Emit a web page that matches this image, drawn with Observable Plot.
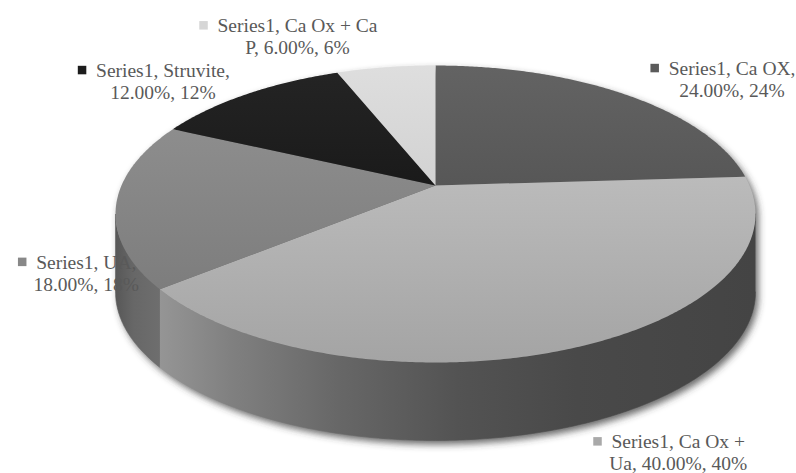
<!DOCTYPE html>
<html>
<head>
<meta charset="utf-8">
<script src="https://cdn.jsdelivr.net/npm/d3@7"></script>
<script src="https://cdn.jsdelivr.net/npm/@observablehq/plot@0.6"></script>
<style>
  html, body { margin: 0; padding: 0; background: #fff; }
</style>
</head>
<body>
<div id="chart"></div>
<script>
// ---- data ----
const seriesName = "Series1";
const categories = ["Ca OX", "Ca Ox + Ua", "UA", "Struvite", "Ca Ox + Ca P"];
const percents = [24, 40, 18, 12, 6];

// ---- styling ----
const keyColors = ["#5b5b5b", "#a9a9a9", "#888888", "#1c1c1c", "#d6d6d6"];
const topStops = [
  ["#636363", "#575757"],
  ["#bbbbbb", "#a4a4a4"],
  ["#8d8d8d", "#7d7d7d"],
  ["#242424", "#1a1a1a"],
  ["#dedede", "#d2d2d2"]
];
const wallStops = [
  [[0, "#4a4a4a"], [1, "#444444"]],
  [[0, "#959595"], [0.12, "#808080"], [0.3, "#676767"], [0.5, "#535353"], [0.7, "#494949"], [1, "#444444"]],
  [[0, "#575757"], [0.4, "#676767"], [1, "#6e6e6e"]],
  [[0, "#1a1a1a"], [1, "#1a1a1a"]],
  [[0, "#cfcfcf"], [1, "#cfcfcf"]]
];
// label offsets (px) from the slice's outer edge at its mid angle to the first text line
const labelOffsets = [[108, -19], [102, 101], [-30, 65], [-84, -17], [-88.5, -35]];

// ---- layout ----
const W = 796, H = 473;
const cx = 435, cy = 185;      // pie centre on screen
const rx = 314, ry = 143;      // disc radii before perspective
const k = 0.192;               // perspective: far edge shrinks, near edge grows
const depth = 78 / ry;         // thickness of the pie
const fontSize = 19.5, lineGap = 21.7, wrapEm = 8.35;
const textColor = "#595959";

const xDomain = [-cx / rx, (W - cx) / rx];
const yDomain = [(cy - H) / ry, cy / ry];
const toX = (px) => (px - cx) / rx;
const toY = (py) => (cy - py) / ry;
const fromX = (x) => cx + x * rx;
const fromY = (y) => cy - y * ry;

// angle in degrees, clockwise from 12 o'clock
function project(deg, drop = 0, r = 1) {
  const t = deg * Math.PI / 180;
  const u = r * Math.sin(t), v = r * Math.cos(t), d = 1 + k * v;
  return {x: u / d, y: v / d - drop};
}
function ring(a0, a1, drop = 0) {
  const n = Math.max(2, Math.ceil(Math.abs(a1 - a0) / 0.5));
  return d3.range(n + 1).map(j => project(a0 + (a1 - a0) * j / n, drop));
}

const total = d3.sum(percents);
let acc = 0;
const slices = categories.map((c, i) => {
  const a0 = acc / total * 360;
  acc += percents[i];
  return {i, c, p: percents[i], a0, a1: acc / total * 360};
});

// silhouette angles where the rim turns from top face to side wall
const aRight = Math.acos(-k) * 180 / Math.PI;
const aLeft = 360 - aRight;

// ---- geometry ----
const tops = slices.map(s => [{x: 0, y: 0}, ...ring(s.a0, s.a1, 0)]);
const walls = slices.map(s => {
  const a0 = Math.max(s.a0, aRight), a1 = Math.min(s.a1, aLeft);
  if (a1 <= a0) return null;
  return [...ring(a0, a1, 0), ...ring(a1, a0, depth)];
});
const shadowOffset = [3 / rx, -4 / ry];
const shadow = [...ring(aLeft, 360 + aRight, 0), ...ring(aRight, aLeft, depth)]
  .map(p => ({x: p.x + shadowOffset[0], y: p.y + shadowOffset[1]}));

// ---- labels ----
const ctx = document.createElement("canvas").getContext("2d");
ctx.font = `${fontSize}px "Liberation Serif"`;
function wrap(str, maxW) {
  const words = str.split(" ");
  const lines = [];
  let cur = "";
  for (const w of words) {
    const t = cur ? cur + " " + w : w;
    if (cur && ctx.measureText(t).width > maxW) { lines.push(cur); cur = w; }
    else cur = t;
  }
  lines.push(cur);
  return lines;
}
const textRows = [], keyRows = [];
slices.forEach(s => {
  const mid = project((s.a0 + s.a1) / 2);
  const [dx, dy] = labelOffsets[s.i];
  const X = fromX(mid.x) + dx, B = fromY(mid.y) + dy;
  const label = `${seriesName}, ${s.c}, ${s.p.toFixed(2)}%, ${s.p}%`;
  const lines = wrap(label, wrapEm * fontSize);
  lines.forEach((t, j) => textRows.push({x: toX(X), y: toY(B + j * lineGap), text: t}));
  const w0 = ctx.measureText(lines[0]).width;
  keyRows.push({x: toX(X - w0 / 2 - 14), y: toY(B - 7), fill: keyColors[s.i]});
});

// ---- chart ----
const marks = [
  Plot.line(shadow, {x: "x", y: "y", fill: "#3a3a3a", fillOpacity: 0.75, stroke: "none"})
];
walls.forEach((w, i) => {
  if (w) marks.push(Plot.line(w, {x: "x", y: "y", fill: `url(#wall${i})`, stroke: `url(#wall${i})`, strokeWidth: 0.6}));
});
tops.forEach((t, i) => {
  marks.push(Plot.line(t, {x: "x", y: "y", fill: `url(#top${i})`, stroke: "none"}));
});
marks.push(Plot.dot(keyRows, {x: "x", y: "y", fill: "fill", symbol: "square", r: 4.8}));
marks.push(Plot.text(textRows, {
  x: "x", y: "y", text: "text", textAnchor: "middle", lineAnchor: "bottom",
  fontSize, fontFamily: "'Liberation Serif', 'Times New Roman', serif", fill: textColor
}));

const chart = Plot.plot({
  width: W, height: H, margin: 0,
  x: {domain: xDomain, axis: null},
  y: {domain: yDomain, axis: null},
  color: {type: "identity"},
  style: {background: "#fff", overflow: "visible"},
  marks
});

// gradients and the soft shadow
const svg = d3.select(chart);
const defs = svg.insert("defs", ":first-child");
topStops.forEach((st, i) => {
  const g = defs.append("linearGradient").attr("id", `top${i}`)
    .attr("x1", 0).attr("y1", 0).attr("x2", 0).attr("y2", 1);
  g.append("stop").attr("offset", 0).attr("stop-color", st[0]);
  g.append("stop").attr("offset", 1).attr("stop-color", st[1]);
});
wallStops.forEach((st, i) => {
  const g = defs.append("linearGradient").attr("id", `wall${i}`)
    .attr("x1", 0).attr("y1", 0).attr("x2", 1).attr("y2", 0);
  st.forEach(([o, c]) => g.append("stop").attr("offset", o).attr("stop-color", c));
});
defs.append("filter").attr("id", "soft")
  .attr("x", "-10%").attr("y", "-10%").attr("width", "120%").attr("height", "120%")
  .append("feGaussianBlur").attr("stdDeviation", 3.5);
svg.select('g[aria-label="line"]').attr("filter", "url(#soft)");

document.getElementById("chart").appendChild(chart);
</script>
</body>
</html>
